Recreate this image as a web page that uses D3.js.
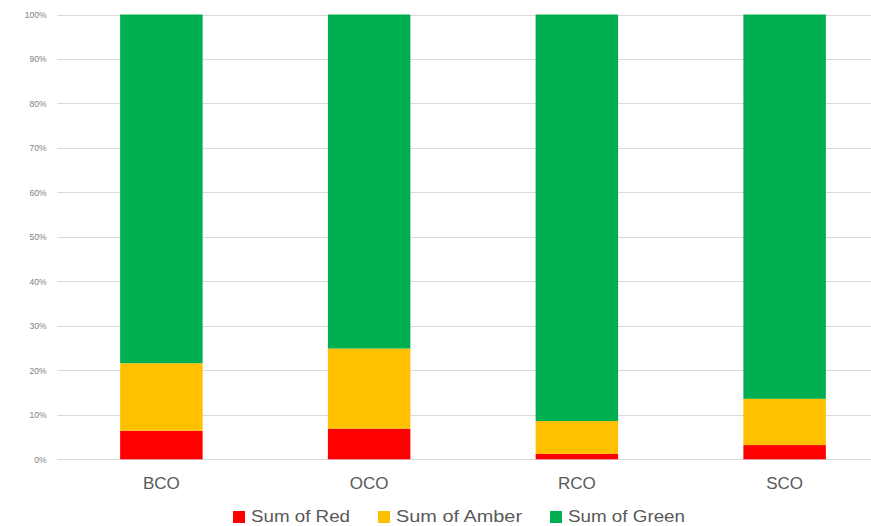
<!DOCTYPE html>
<html>
<head>
<meta charset="utf-8">
<script src="https://cdn.jsdelivr.net/npm/d3@7"></script>
<style>
  html, body { margin: 0; padding: 0; background: #fff; }
  svg { display: block; }
</style>
</head>
<body>
<svg id="chart" width="871" height="526"></svg>
<script>
// Categories and stacked shares (fraction of total per category)
const categories = ["BCO", "OCO", "RCO", "SCO"];
const redShare   = [0.064, 0.069, 0.012, 0.032];
const amberShare = [0.152, 0.180, 0.074, 0.104];
const greenShare = [0.784, 0.751, 0.914, 0.864];
const seriesNames = ["Sum of Red", "Sum of Amber", "Sum of Green"];
const seriesColors = ["#ff0000", "#ffc000", "#00b050"];
const yTicks = [0, 0.1, 0.2, 0.3, 0.4, 0.5, 0.6, 0.7, 0.8, 0.9, 1.0];

const rows = categories.map((c, i) => ({
  cat: c,
  "Sum of Red": redShare[i],
  "Sum of Amber": amberShare[i],
  "Sum of Green": greenShare[i]
}));

const svg = d3.select("#chart");

const x = d3.scaleBand()
  .domain(categories)
  .range([57.5, 888.5])
  .paddingInner(0.603)
  .paddingOuter(0.3015);

const y = d3.scaleLinear().domain([0, 1]).range([459.3, 14.5]);

// Horizontal gridlines
svg.append("g")
  .selectAll("line")
  .data(yTicks)
  .join("line")
  .attr("x1", 57.5)
  .attr("x2", 871)
  .attr("y1", d => Math.round(y(d)) + 0.5)
  .attr("y2", d => Math.round(y(d)) + 0.5)
  .attr("stroke", "#d9d9d9")
  .attr("stroke-width", 1);

// Y axis labels
const yAxis = d3.axisLeft(y)
  .tickValues(yTicks)
  .tickFormat(d3.format(".0%"))
  .tickSize(0)
  .tickPadding(0);

const yg = svg.append("g")
  .attr("transform", "translate(46.5,0)")
  .call(yAxis);
yg.select(".domain").remove();
yg.selectAll("text")
  .attr("fill", "#808080")
  .style("font-family", "'Liberation Sans', Arial, sans-serif")
  .style("font-size", "8.5px");

// Stacked bars
const stack = d3.stack().keys(seriesNames);
const layers = stack(rows);

svg.append("g")
  .selectAll("g")
  .data(layers)
  .join("g")
  .attr("fill", (d, i) => seriesColors[i])
  .selectAll("rect")
  .data(d => d)
  .join("rect")
  .attr("x", d => x(d.data.cat))
  .attr("width", x.bandwidth())
  .attr("y", d => y(d[1]))
  .attr("height", d => y(d[0]) - y(d[1]));

// Category axis labels
const xAxis = d3.axisBottom(x).tickSize(0).tickPadding(0);
const xg = svg.append("g")
  .attr("transform", "translate(0,477)")
  .call(xAxis);
xg.select(".domain").remove();
xg.selectAll("text")
  .attr("fill", "#595959")
  .attr("dy", "0.72em")
  .style("font-family", "'Liberation Sans', Arial, sans-serif")
  .style("font-size", "17px");

// Legend
const legendX = [233, 378, 550];
const legendWidths = [99, 126, 117];
const legend = svg.append("g");
seriesNames.forEach((name, i) => {
  legend.append("rect")
    .attr("x", legendX[i])
    .attr("y", 511)
    .attr("width", 12)
    .attr("height", 12)
    .attr("fill", seriesColors[i]);
  legend.append("text")
    .attr("x", legendX[i] + 18)
    .attr("y", 522)
    .attr("fill", "#595959")
    .attr("textLength", legendWidths[i])
    .attr("lengthAdjust", "spacingAndGlyphs")
    .style("font-family", "'Liberation Sans', Arial, sans-serif")
    .style("font-size", "16px")
    .text(name);
});
</script>
</body>
</html>
